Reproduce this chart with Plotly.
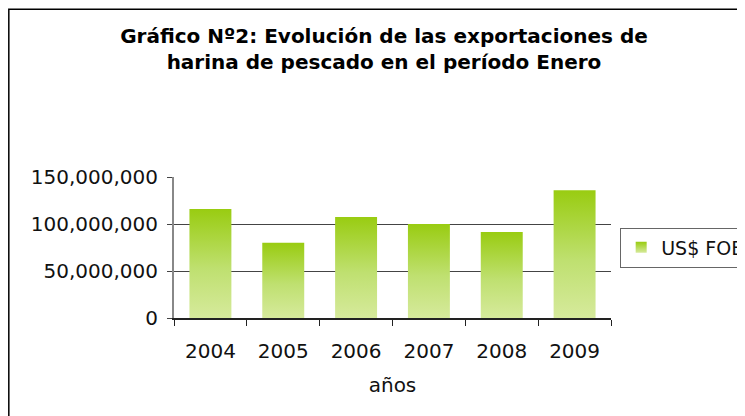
import plotly.graph_objects as go

years = ["2004", "2005", "2006", "2007", "2008", "2009"]
values = [116_000_000, 80_000_000, 107_500_000, 100_000_000, 91_500_000, 136_000_000]
series_name = "US$ FOB"
title_text = "Gráfico Nº2: Evolución de las exportaciones de<br>harina de pescado en el período Enero"
x_title = "años"
y_ticks = [0, 50_000_000, 100_000_000, 150_000_000]

FONT = "DejaVu Sans, Verdana, sans-serif"
grad = [[0, "#d6ea9c"], [0.45, "#bfe070"], [1, "#99cc11"]]
half = 0.288

fig = go.Figure()
for i, (yr, v) in enumerate(zip(years, values)):
    xs = [i - half, i + half, i + half, i - half, i - half]
    ys = [0, 0, v, v, 0]
    fig.add_trace(go.Scatter(
        x=xs, y=ys, mode="lines", fill="toself",
        line=dict(width=0, color="rgba(0,0,0,0)"),
        fillgradient=dict(type="vertical", colorscale=grad, start=0, stop=v),
        name=series_name, showlegend=False, hoverinfo="skip",
    ))

# legend entry (square gradient swatch)
fig.add_trace(go.Scatter(
    x=[None], y=[None], mode="markers", name=series_name,
    marker=dict(symbol="square", size=11, color="#99cc11",
                gradient=dict(type="vertical", color="#d6ea9c"),
                line=dict(width=0)),
    showlegend=True,
))

fig.update_layout(
    width=745, height=416,
    margin=dict(l=166, r=142, t=169, b=106, autoexpand=False),
    paper_bgcolor="white", plot_bgcolor="white",
    font=dict(family=FONT, size=20, color="#111"),
    title=dict(text="<b>" + title_text + "</b>", x=0.5047, xanchor="center",
               y=0.916, yanchor="top", font=dict(size=20, color="#000")),
    showlegend=True,
    legend=dict(x=1.021, xanchor="left", y=0.5, yanchor="middle",
                bordercolor="#666", borderwidth=1, bgcolor="white",
                font=dict(size=19, color="#111"), itemwidth=30,
                tracegroupgap=0),
    xaxis=dict(range=[-0.5, 5.5], tickvals=list(range(len(years))), ticktext=years,
               ticks="", showgrid=False, zeroline=False,
               showline=True, linecolor="#222", linewidth=1.5,
               ticklabelstandoff=14,
               minor=dict(tick0=-0.5, dtick=1, ticks="outside", ticklen=6,
                          tickcolor="#222", showgrid=False),
               title=dict(text=x_title, standoff=16, font=dict(size=20)),
               automargin=False, fixedrange=True),
    yaxis=dict(range=[0, 150_000_000], tickvals=y_ticks, tickformat=",d",
               showgrid=True, gridcolor="#444", gridwidth=1,
               zeroline=False, showline=True, linecolor="#888", linewidth=2,
               ticks="outside", ticklen=5, tickcolor="#444",
               ticklabelstandoff=5,
               automargin=False, fixedrange=True),
    shapes=[dict(type="rect", xref="paper", yref="paper",
                 x0=-0.378, x1=2.0, y0=-2.0, y1=2.19,
                 line=dict(color="#000", width=1.5), fillcolor="rgba(0,0,0,0)",
                 layer="below")],
)

fig.write_html("out.html")
